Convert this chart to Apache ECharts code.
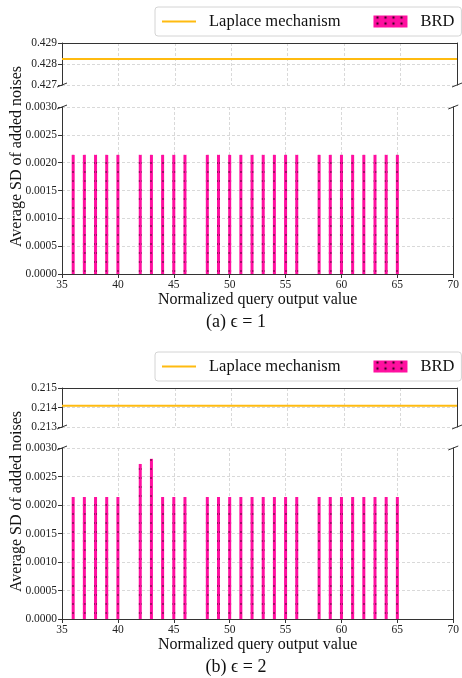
<!DOCTYPE html>
<html><head><meta charset="utf-8">
<script src="https://cdn.jsdelivr.net/npm/echarts@6/dist/echarts.min.js"></script>
<style>html,body{margin:0;padding:0;background:#fff}#c{width:462px;height:678px}</style>
</head><body><div id="c"></div>
<script>
// ---- data ----
const xMin = 35, xMax = 70, xStep = 5;
const brdX = [36,37,38,39,40,42,43,44,45,46,48,49,50,51,52,53,54,55,56,58,59,60,61,62,63,64,65];
const brdEps1 = [0.00214,0.00214,0.00214,0.00214,0.00214,0.00214,0.00214,0.00214,0.00214,0.00214,0.00214,0.00214,0.00214,0.00214,0.00214,0.00214,0.00214,0.00214,0.00214,0.00214,0.00214,0.00214,0.00214,0.00214,0.00214,0.00214,0.00214];
const brdEps2 = [0.00214,0.00214,0.00214,0.00214,0.00214,0.00272,0.00281,0.00214,0.00214,0.00214,0.00214,0.00214,0.00214,0.00214,0.00214,0.00214,0.00214,0.00214,0.00214,0.00214,0.00214,0.00214,0.00214,0.00214,0.00214,0.00214,0.00214];
const laplaceEps1 = 0.42824;
const laplaceEps2 = 0.21409;
const topRange1 = [0.427, 0.429, 0.001];
const topRange2 = [0.213, 0.215, 0.001];
const botRange = [0, 0.003, 0.0005];
const captions = ['(a) \u03F5 = 1', '(b) \u03F5 = 2'];
const xTitle = 'Normalized query output value';
const yTitle = 'Average SD of added noises';
const seriesNames = ['Laplace mechanism', 'BRD'];

// ---- styles ----
const FONT = '"Liberation Serif", "Times New Roman", serif';
const SPINE = '#333';
const GRIDC = '#cfcfcf';
const PINK = '#ff10a0';
const GOLD = '#ffbb10';
const DECAL = {symbol:'circle', symbolSize:0.8, color:'rgba(20,0,10,0.85)', dashArrayX:[2,1], dashArrayY:[2,7], rotation:0};

const grids = [
  {left:62, right:5, top:43, height:42},
  {left:62, right:5, top:107, height:167},
  {left:62, right:5, top:388, height:39},
  {left:62, right:5, top:448, height:171}
];

const split = {show:true, lineStyle:{color:GRIDC, type:[3,2], width:0.8}};
const xAxes = [], yAxes = [];
function addX(g, kind){
  const base = {type:'value', gridIndex:g, min:xMin, max:xMax, interval:xStep};
  if (kind === 'hidden') {
    xAxes.push(Object.assign({}, base, {position:'bottom', axisLine:{show:false}, axisTick:{show:false}, axisLabel:{show:false}, splitLine:split}));
  } else if (kind === 'topSpine') {
    xAxes.push(Object.assign({}, base, {position:'top', axisLine:{show:true, onZero:false, lineStyle:{color:SPINE, width:1}}, axisTick:{show:false}, axisLabel:{show:false}, splitLine:{show:false}}));
  } else {
    xAxes.push(Object.assign({}, base, {position:'bottom', axisLine:{show:true, onZero:false, lineStyle:{color:SPINE, width:1}},
      axisTick:{show:true, length:4, lineStyle:{color:SPINE}}, axisLabel:{show:true, fontFamily:FONT, fontSize:11.5, color:'#222', margin:5},
      splitLine:split, name:xTitle, nameLocation:'middle', nameGap:17, nameTextStyle:{fontFamily:FONT, fontSize:16, color:'#111'}}));
  }
  return xAxes.length - 1;
}
function addY(g, range, dec){
  yAxes.push({type:'value', gridIndex:g, position:'left', min:range[0], max:range[1], interval:range[2],
    axisLine:{show:true, onZero:false, lineStyle:{color:SPINE, width:1}},
    axisTick:{show:true, length:4, lineStyle:{color:SPINE}},
    axisLabel:{fontFamily:FONT, fontSize:11.5, color:'#222', margin:5, formatter:v=>v.toFixed(dec)},
    splitLine:split});
  const li = yAxes.length - 1;
  yAxes.push({type:'value', gridIndex:g, position:'right', min:range[0], max:range[1], interval:range[2],
    axisLine:{show:true, onZero:false, lineStyle:{color:SPINE, width:1}},
    axisTick:{show:false}, axisLabel:{show:false}, splitLine:{show:false}});
  return li;
}

const series = [];
function panel(gTop, gBot, topRange, lapVal, brdVals){
  const xt = addX(gTop, 'hidden'); addX(gTop, 'topSpine');
  const xb = addX(gBot, 'bottom');
  const yt = addY(gTop, topRange, 3);
  const yb = addY(gBot, botRange, 4);
  series.push({type:'line', name:seriesNames[0], xAxisIndex:xt, yAxisIndex:yt, symbol:'none', showSymbol:false,
    lineStyle:{color:GOLD, width:2}, itemStyle:{color:GOLD}, data:[[xMin, lapVal],[xMax, lapVal]], z:5});
  series.push({type:'bar', name:seriesNames[1], xAxisIndex:xb, yAxisIndex:yb, barWidth:3,
    itemStyle:{color:PINK, decal:DECAL},
    data:brdX.map((x,i)=>[x, brdVals[i]])});
}
panel(0, 1, topRange1, laplaceEps1, brdEps1);
panel(2, 3, topRange2, laplaceEps2, brdEps2);

function legendAt(top){
  return {left:155, top:top, orient:'horizontal', backgroundColor:'#fff', borderColor:'#d4d4d4', borderWidth:1, borderRadius:3,
    padding:[6,7,6,6], itemWidth:34, itemHeight:12, itemGap:33, selectedMode:false,
    textStyle:{fontFamily:FONT, fontSize:16.5, color:'#111', padding:[0,0,0,8]},
    data:[
      {name:seriesNames[0], itemStyle:{opacity:0}, lineStyle:{color:GOLD, width:2}},
      {name:seriesNames[1], icon:'rect', itemStyle:{color:PINK, decal:{symbol:'circle', symbolSize:0.6, color:'rgba(20,0,10,0.85)', dashArrayX:[8,0], dashArrayY:[4,2]}}}
    ]};
}

const chart = echarts.init(document.getElementById('c'), null, {renderer:'canvas'});
chart.setOption({
  animation:false,
  backgroundColor:'#fff',
  grid:grids,
  xAxis:xAxes,
  yAxis:yAxes,
  legend:[legendAt(7), legendAt(352)],
  series:series
});

// break marks, axis titles and captions, positioned from the axes
const gfx = [];
function mark(x, y){
  gfx.push({type:'line', shape:{x1:x-5, y1:y+2, x2:x+5, y2:y-2}, style:{stroke:SPINE, lineWidth:1}, silent:true});
}
function panelDeco(gTop, gBot, topRange, capIdx){
  const tl = chart.convertToPixel({gridIndex:gTop}, [xMin, topRange[0]]);
  const tr = chart.convertToPixel({gridIndex:gTop}, [xMax, topRange[0]]);
  const bl = chart.convertToPixel({gridIndex:gBot}, [xMin, botRange[1]]);
  const br = chart.convertToPixel({gridIndex:gBot}, [xMax, botRange[1]]);
  [tl, tr, bl, br].forEach(p=>mark(p[0], p[1]));
  const top = chart.convertToPixel({gridIndex:gTop}, [xMin, topRange[1]]);
  const bot = chart.convertToPixel({gridIndex:gBot}, [xMin, botRange[0]]);
  const cy = (top[1] + bot[1]) / 2 - 2;
  gfx.push({type:'text', x:17, y:cy, rotation:Math.PI/2,
    style:{text:yTitle, font:'16px ' + FONT, fill:'#111', align:'center', verticalAlign:'middle'}});
  gfx.push({type:'text', x:236, y:bot[1] + 48,
    style:{text:captions[capIdx], font:'18px ' + FONT, fill:'#111', align:'center', verticalAlign:'middle'}});
}
panelDeco(0, 1, topRange1, 0);
panelDeco(2, 3, topRange2, 1);
chart.setOption({graphic:gfx});
</script>
</body></html>
